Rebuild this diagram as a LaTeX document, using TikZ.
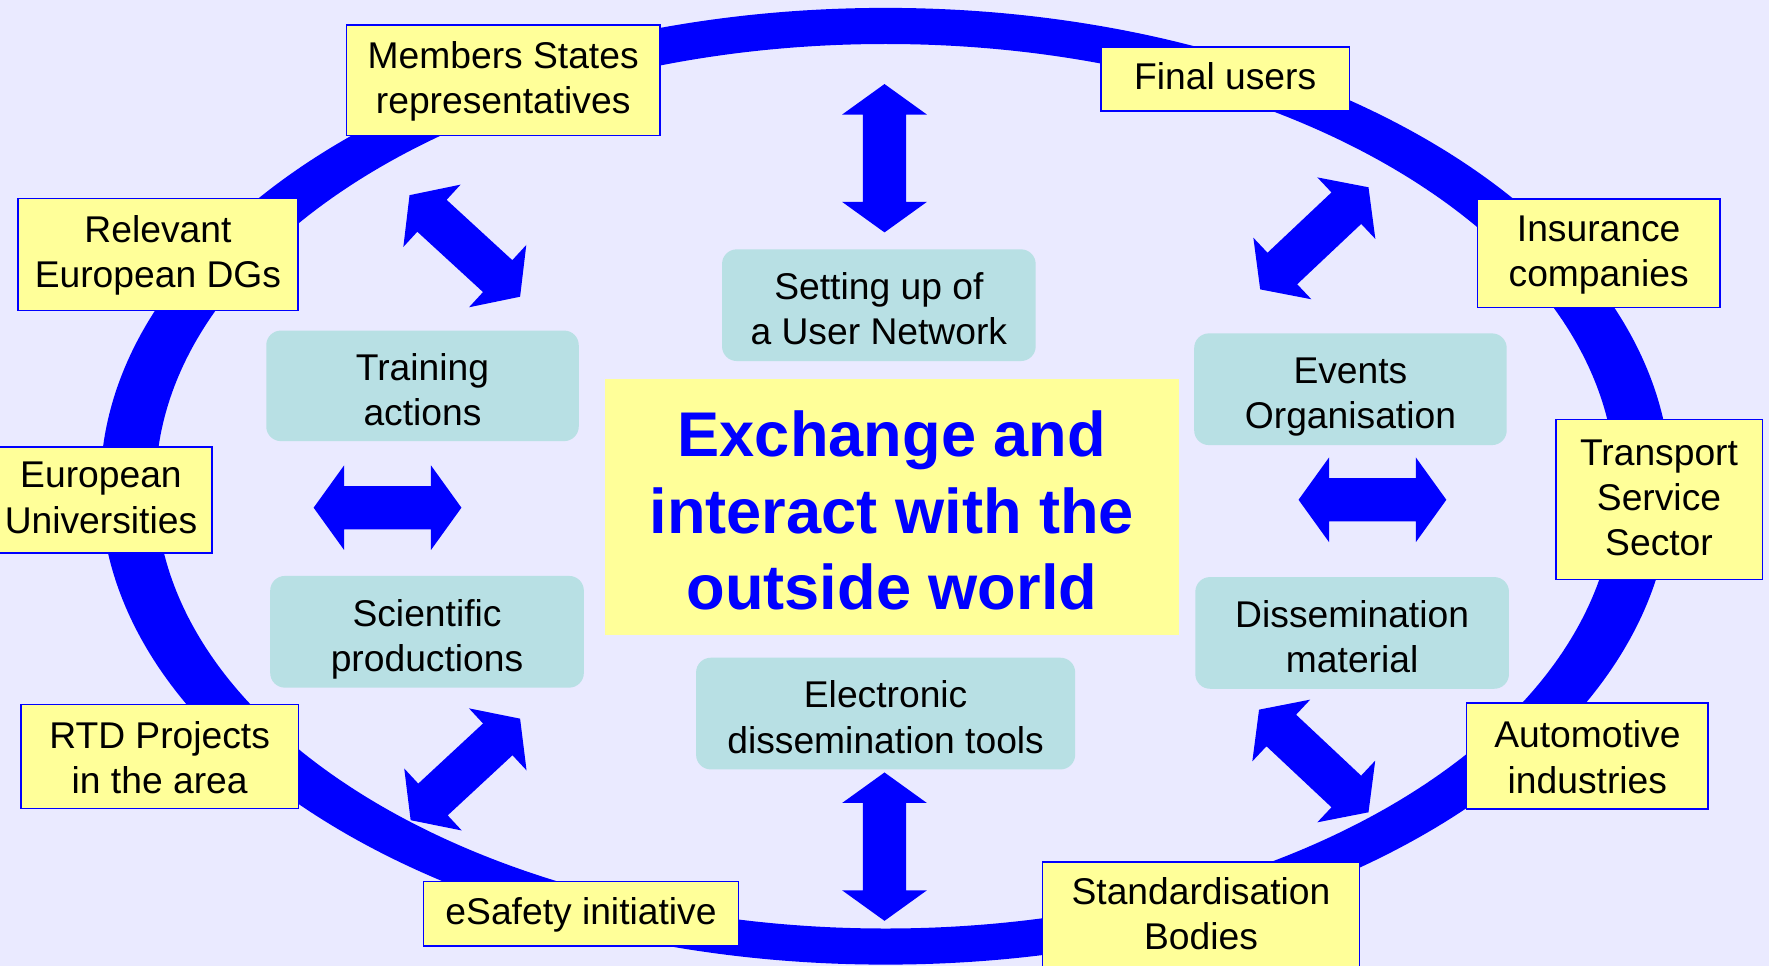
\documentclass[tikz,border=0pt]{standalone}
\usepackage{fontspec}
\setmainfont{Liberation Sans}
\usetikzlibrary{calc}
\definecolor{bgcol}{RGB}{234,234,255}
\definecolor{ringblue}{RGB}{0,0,255}
\definecolor{boxyellow}{RGB}{255,255,153}
\definecolor{tealbox}{RGB}{184,224,228}
\tikzset{
  ybox/.style={draw=ringblue, fill=boxyellow, line width=1.3pt, inner sep=0pt, align=center, font=\fontsize{33}{40}\selectfont},
  oneline/.style={text height=24pt, text depth=4.8pt},
  twoline/.style={text height=64pt, text depth=5pt},
  twolinelow/.style={text height=70pt, text depth=4pt},
  threeline/.style={text height=104pt, text depth=4.8pt},
  tbox/.style={fill=tealbox, rounded corners=13pt, inner sep=0pt, align=center, font=\fontsize{33}{40}\selectfont, text height=70pt, text depth=0pt},
  titlebox/.style={fill=boxyellow, inner sep=0pt, align=center, text=ringblue, font=\fontsize{56}{68}\selectfont\bfseries, text height=182pt, text depth=0pt},
  blockarrow/.style={fill=ringblue}
}
\newcommand{\dblarrow}[2]{%
  \path ($(#1)!27pt!(#2)$) coordinate (#1h) ($(#2)!27pt!(#1)$) coordinate (#2h);
  \fill[blockarrow] (#1) -- ($(#1h)!37.5pt!90:(#1)$) -- ($(#1h)!19.2pt!90:(#1)$)
    -- ($(#2h)!19.2pt!-90:(#2)$) -- ($(#2h)!37.5pt!-90:(#2)$) -- (#2)
    -- ($(#2h)!37.5pt!90:(#2)$) -- ($(#2h)!19.2pt!90:(#2)$)
    -- ($(#1h)!19.2pt!-90:(#1)$) -- ($(#1h)!37.5pt!-90:(#1)$) -- cycle;}
\begin{document}
\begin{tikzpicture}[x=1pt,y=-1pt]
\useasboundingbox (0,0) rectangle (1568,856);
\fill[bgcol] (0,0) rectangle (1568,856);
% ring
\fill[ringblue, even odd rule] (785,431) ellipse [x radius=696pt, y radius=424pt]
  (785,431) ellipse [x radius=647pt, y radius=392pt];
% outer boxes
\node[ybox, twoline, minimum width=278pt, minimum height=98pt] (members) at (446,71) {Members States\\representatives};
\node[ybox, oneline, minimum width=220pt, minimum height=57pt] (final) at (1086,70) {Final users};
\node[ybox, twoline, minimum width=248pt, minimum height=99pt] (dgs) at (140,225.5) {Relevant\\European DGs};
\node[ybox, twoline, minimum width=215pt, minimum height=96pt] (insurance) at (1417,224.5) {Insurance\\companies};
\node[ybox, twoline, minimum width=197pt, minimum height=94pt] (univ) at (89.5,443) {European\\Universities};
\node[ybox, threeline, minimum width=183pt, minimum height=142pt] (transport) at (1470.5,442.8) {Transport\\Service\\Sector};
\node[ybox, twolinelow, minimum width=246pt, minimum height=92pt] (rtd) at (141.5,670.5) {RTD Projects\\in the area};
\node[ybox, twolinelow, minimum width=214pt, minimum height=94pt] (auto) at (1407,670) {Automotive\\industries};
\node[ybox, oneline, minimum width=279pt, minimum height=57pt] (esafety) at (515,810) {eSafety initiative};
\node[ybox, twoline, minimum width=281pt, minimum height=96pt] (std) at (1064.5,812) {Standardisation\\Bodies};
% inner boxes
\node[tbox, minimum width=277pt, minimum height=98pt] (training) at (374.5,342) {Training\\actions};
\node[tbox, minimum width=277pt, minimum height=99pt] (events) at (1197,345) {Events\\Organisation};
\node[tbox, minimum width=278pt, minimum height=99pt] (scientific) at (378.5,560) {Scientific\\productions};
\node[tbox, minimum width=278pt, minimum height=99pt] (dissem) at (1198.5,561) {Dissemination\\material};
\node[tbox, minimum width=278pt, minimum height=99pt] (setting) at (779,270.5) {Setting up of\\a User Network};
\node[tbox, minimum width=336pt, minimum height=99pt] (electronic) at (785,632.5) {Electronic\\dissemination tools};
% title
\node[titlebox, minimum width=509pt, minimum height=227pt] (title) at (790.5,449.5) {Exchange and\\interact with the\\outside world};
% block arrows
\coordinate (nA) at (784,74.5);   \coordinate (nB) at (784,206);
\coordinate (sA) at (784,684.7);  \coordinate (sB) at (784,816.2);
\coordinate (wA) at (278,450);    \coordinate (wB) at (409,450);
\coordinate (eA) at (1151,443);   \coordinate (eB) at (1282,443);
\coordinate (nwA) at (363,173);   \coordinate (nwB) at (461,263);
\coordinate (neA) at (1117,256.5); \coordinate (neB) at (1213,166);
\coordinate (swA) at (364,727);   \coordinate (swB) at (461,637);
\coordinate (seA) at (1116,629);  \coordinate (seB) at (1213,720);
\dblarrow{nA}{nB}
\dblarrow{sA}{sB}
\dblarrow{wA}{wB}
\dblarrow{eA}{eB}
\dblarrow{nwA}{nwB}
\dblarrow{neA}{neB}
\dblarrow{swA}{swB}
\dblarrow{seA}{seB}
\end{tikzpicture}
\end{document}
